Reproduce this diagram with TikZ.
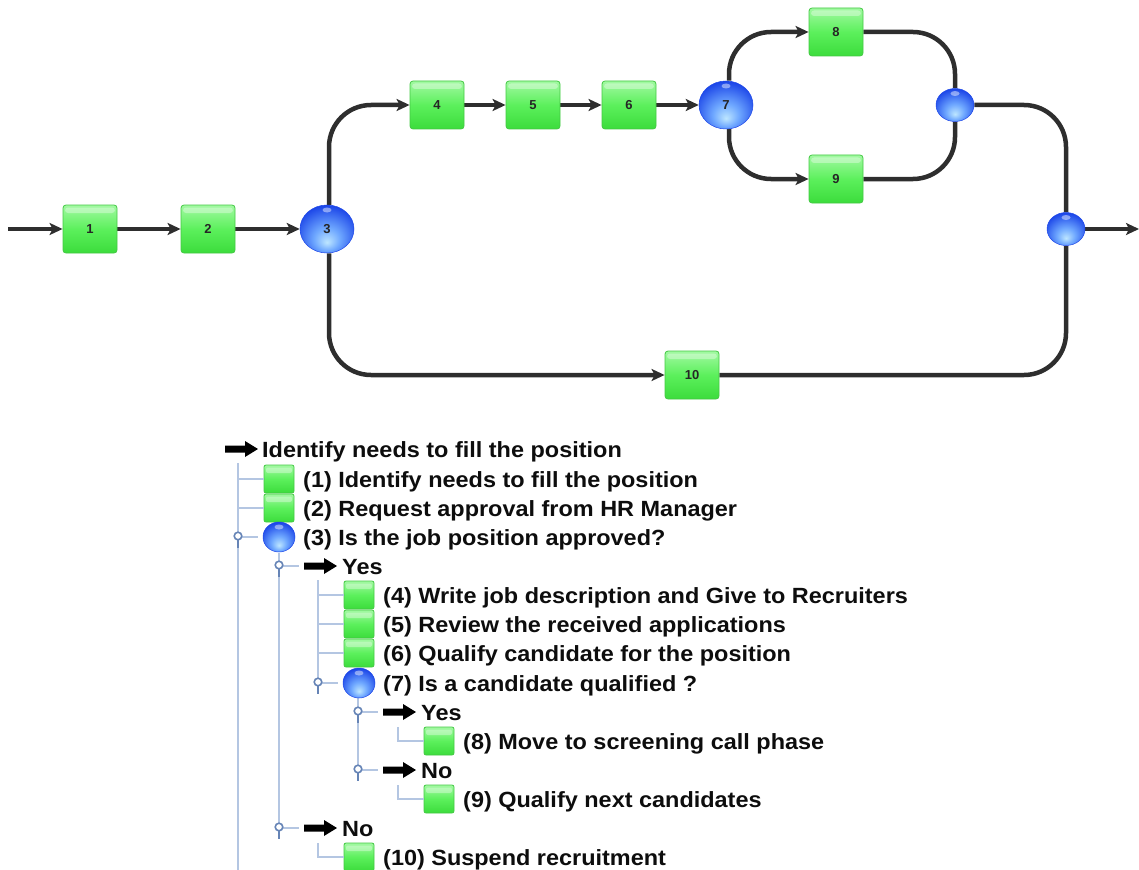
\documentclass[tikz,border=0pt]{standalone}
\usepackage{fontspec}
\setmainfont{Liberation Sans}
\newfontfamily\treefont{Liberation Sans}[FakeStretch=1.066]
\usetikzlibrary{arrows.meta,shapes.geometric,backgrounds}
\definecolor{gtop}{HTML}{A2F9A2}
\definecolor{gmid}{HTML}{5CF05C}
\definecolor{gbot}{HTML}{3CDC3C}
\definecolor{gedge}{HTML}{44C844}
\definecolor{ballL}{HTML}{BDE6FF}
\definecolor{ballM}{HTML}{6FA8FF}
\definecolor{ballD}{HTML}{1C46E8}
\definecolor{flowc}{HTML}{2E2E2E}
\definecolor{tline}{HTML}{B4C6E2}
\definecolor{thandle}{HTML}{6684B6}
\pgfdeclareradialshading{gwball}{\pgfpoint{0bp}{-14bp}}{color(0bp)=(ballL); color(12bp)=(ballM); color(30bp)=(ballD); color(50bp)=(ballD)}
\tikzset{
  x=1pt, y=-1pt,
  boxbase/.style={draw=gedge, line width=0.8pt, top color=gtop, bottom color=gbot, middle color=gmid, inner sep=0pt,
    path picture={\fill[white,opacity=0.35] ([xshift=2pt,yshift=-2.5pt]path picture bounding box.north west) rectangle ([xshift=-2pt,yshift=-8pt]path picture bounding box.north east);}},
  task/.style={boxbase, rounded corners=3pt, minimum width=54pt, minimum height=48pt, font=\fontsize{13}{15}\selectfont\bfseries, text=black!85},
  ballbase/.style={ellipse, draw=ballD, line width=0.5pt, shading=gwball, inner sep=0pt,
    path picture={\fill[white,opacity=0.45] ([yshift=-5pt]path picture bounding box.north) ellipse (4.5pt and 2.5pt);}},
  gate/.style={ballbase, minimum width=54pt, minimum height=48pt, font=\fontsize{13}{15}\selectfont\bfseries, text=black!85},
  joinball/.style={ballbase, minimum width=38pt, minimum height=33pt},
  flow/.style={line width=4.5pt, draw=flowc, rounded corners=42pt},
  arr/.style={-{Stealth[length=13pt,width=12pt,inset=3pt]}},
  tbox/.style={boxbase, rounded corners=2pt, minimum width=30pt, minimum height=28pt},
  tball/.style={ballbase, minimum width=32pt, minimum height=30pt},
  ttext/.style={anchor=base west, inner sep=0pt, font=\treefont\fontsize{22}{26}\selectfont\bfseries, text=black!95},
  tl/.style={draw=tline, line width=1.5pt},
  tarrow/.pic={\fill[black] (-17,-3.5) -- (3,-3.5) -- (3,-8) -- (16,0) -- (3,8) -- (3,3.5) -- (-17,3.5) -- cycle;},
  handle/.pic={\draw[tl] (0,0) -- (20,0);
               \draw[thandle, line width=1.8pt] (0,3) -- (0,11);
               \draw[thandle, line width=1.6pt, fill=white] (0,-1) circle (3.8pt);}
}
\begin{document}
\begin{tikzpicture}
\useasboundingbox (0,0) rectangle (1139,869);
% ---------------- top process diagram ----------------
\coordinate (in) at (8,229);
\coordinate (out) at (1139,229);
\node[task] (b1) at (90,229) {1};
\node[task] (b2) at (208,229) {2};
\node[gate] (g3) at (327,229) {3};
\node[task] (b4) at (437,105) {4};
\node[task] (b5) at (533,105) {5};
\node[task] (b6) at (629,105) {6};
\node[gate] (g7) at (726,105) {7};
\node[task] (b8) at (836,32) {8};
\node[task] (b9) at (836,179) {9};
\node[joinball] (j1) at (955,105) {};
\node[joinball] (j2) at (1066,229) {};
\node[task] (b10) at (692,375) {10};
\begin{scope}[on background layer]
\draw[flow,arr] (in) -- (b1);
\draw[flow,arr] (b1) -- (b2);
\draw[flow,arr] (b2) -- (g3);
\draw[flow,arr] ([xshift=2pt]g3.north) |- (b4.west);
\draw[flow,arr] (b4) -- (b5);
\draw[flow,arr] (b5) -- (b6);
\draw[flow,arr] (b6) -- (g7);
\draw[flow,arr] ([xshift=3pt]g7.north) |- (b8.west);
\draw[flow,arr] ([xshift=3pt]g7.south) |- (b9.west);
\draw[flow] (b8.east) -| (j1.north);
\draw[flow] (b9.east) -| (j1.south);
\draw[flow] (j1.east) -| (j2.north);
\draw[flow,arr] ([xshift=2pt]g3.south) |- (b10.west);
\draw[flow] (b10.east) -| (j2.south);
\draw[flow,arr] (j2.east) -- (out);
\end{scope}
% ---------------- tree ----------------
% vertical guide lines
\draw[tl] (238,463) -- (238,875);
\draw[tl] (279,553) -- (279,828);
\draw[tl] (318,580) -- (318,683);
\draw[tl] (358,698) -- (358,770);
% root
\pic at (242,449) {tarrow};
\node[ttext] (t0) at (262,457) {Identify needs to fill the position};
% (1)
\node[tbox] (i1) at (279,479) {};
\draw[tl] (238,479) -- (i1.west);
\node[ttext] (t1) at (303,487) {(1) Identify needs to fill the position};
% (2)
\node[tbox] (i2) at (279,508) {};
\draw[tl] (238,508) -- (i2.west);
\node[ttext] (t2) at (303,516) {(2) Request approval from HR Manager};
% (3)
\pic at (238,537) {handle};
\node[tball] (i3) at (279,537) {};
\node[ttext] (t3) at (303,545) {(3) Is the job position approved?};
% Yes
\pic at (279,566) {handle};
\pic at (321,566) {tarrow};
\node[ttext] (ty1) at (342,574) {Yes};
% (4)-(6)
\node[tbox] (i4) at (359,595) {};
\draw[tl] (318,595) -- (i4.west);
\node[ttext] (t4) at (383,603) {(4) Write job description and Give to Recruiters};
\node[tbox] (i5) at (359,624) {};
\draw[tl] (318,624) -- (i5.west);
\node[ttext] (t5) at (383,632) {(5) Review the received applications};
\node[tbox] (i6) at (359,653) {};
\draw[tl] (318,653) -- (i6.west);
\node[ttext] (t6) at (383,661) {(6) Qualify candidate for the position};
% (7)
\pic at (318,683) {handle};
\node[tball] (i7) at (359,683) {};
\node[ttext] (t7) at (383,691) {(7) Is a candidate qualified ?};
% Yes (7)
\pic at (358,712) {handle};
\pic at (400,712) {tarrow};
\node[ttext] (ty2) at (421,720) {Yes};
\node[tbox] (i8) at (439,741) {};
\draw[tl] (398,727) |- (i8.west);
\node[ttext] (t8) at (463,749) {(8) Move to screening call phase};
% No (7)
\pic at (358,770) {handle};
\pic at (400,770) {tarrow};
\node[ttext] (tn2) at (421,778) {No};
\node[tbox] (i9) at (439,799) {};
\draw[tl] (398,785) |- (i9.west);
\node[ttext] (t9) at (463,807) {(9) Qualify next candidates};
% No (3)
\pic at (279,828) {handle};
\pic at (321,828) {tarrow};
\node[ttext] (tn1) at (342,836) {No};
\node[tbox] (i10) at (359,857) {};
\draw[tl] (318,843) |- (i10.west);
\node[ttext] (t10) at (383,865) {(10) Suspend recruitment};
\end{tikzpicture}
\end{document}
